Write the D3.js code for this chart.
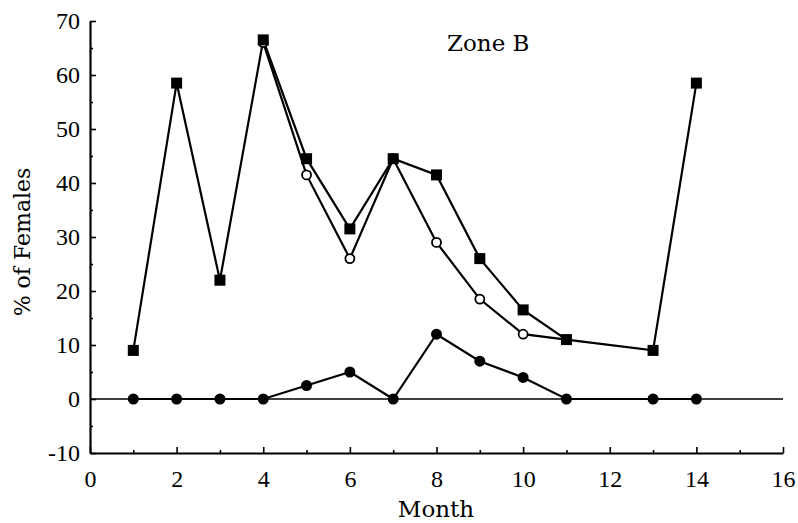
<!DOCTYPE html>
<html><head><meta charset="utf-8">
<script src="https://cdn.jsdelivr.net/npm/d3@7"></script>
<style>body{margin:0;background:#fff}svg{display:block}</style>
</head><body>
<svg id="chart" width="798" height="523"></svg>
<script>
const xTicks = [0,2,4,6,8,10,12,14,16];
const yTicks = [-10,0,10,20,30,40,50,60,70];
const monthsA = [1,2,3,4,5,6,7,8,9,10,11,13,14];
const valuesA = [9,58.5,22,66.5,44.5,31.5,44.5,41.5,26,16.5,11,9,58.5];
const monthsB = [4,5,6,7,8,9,10,11];
const valuesB = [66,41.5,26,44.5,29,18.5,12,11];
const monthsC = [1,2,3,4,5,6,7,8,9,10,11,13,14];
const valuesC = [0,0,0,0,2.5,5,0,12,7,4,0,0,0];

const svg = d3.select("#chart");
const x = d3.scaleLinear().domain([0,16]).range([90,783]);
const y = d3.scaleLinear().domain([-10,70]).range([453,21]);
const font = "'DejaVu Serif', serif";
const tickFont = "'Liberation Serif', serif";
const fmt = d => String(d);

// zero reference line
svg.append("line").attr("x1",x(0)).attr("x2",x(16)).attr("y1",y(0)).attr("y2",y(0))
  .attr("stroke","#000").attr("stroke-width",1.3);

// axes
const gx = svg.append("g").attr("transform",`translate(0,${y(-10)})`)
  .call(d3.axisBottom(x).tickValues(xTicks).tickFormat(fmt).tickSize(-6).tickPadding(17).tickSizeOuter(0));
const gy = svg.append("g").attr("transform",`translate(${x(0)},0)`)
  .call(d3.axisLeft(y).tickValues(yTicks).tickFormat(fmt).tickSize(-6).tickPadding(10).tickSizeOuter(0));
// minor ticks
svg.append("g").attr("transform",`translate(0,${y(-10)})`)
  .call(d3.axisBottom(x).tickValues(d3.range(1,16,2)).tickSize(-3).tickFormat("").tickSizeOuter(0))
  .call(g=>g.select(".domain").remove());
svg.append("g").attr("transform",`translate(${x(0)},0)`)
  .call(d3.axisLeft(y).tickValues(d3.range(-5,70,10)).tickSize(-3).tickFormat("").tickSizeOuter(0))
  .call(g=>g.select(".domain").remove());
svg.selectAll(".domain").attr("stroke-width",2.2);
svg.selectAll(".tick line").attr("stroke-width",1.6);
svg.selectAll(".tick text").attr("font-family",tickFont).attr("font-size",24).attr("fill","#000");
gx.selectAll(".tick text").attr("dy","0.71em");

const line = d3.line().x(d=>x(d[0])).y(d=>y(d[1]));
const dataA = monthsA.map((m,i)=>[m,valuesA[i]]);
const dataB = monthsB.map((m,i)=>[m,valuesB[i]]);
const dataC = monthsC.map((m,i)=>[m,valuesC[i]]);

[dataA,dataB,dataC].forEach(d=>{
  svg.append("path").datum(d).attr("d",line).attr("fill","none").attr("stroke","#000").attr("stroke-width",2.2);
});

// open circles
svg.selectAll(".oc").data(dataB).enter().append("circle")
  .attr("cx",d=>x(d[0])).attr("cy",d=>y(d[1])).attr("r",4.5)
  .attr("fill","#fff").attr("stroke","#000").attr("stroke-width",1.8);
// filled squares
svg.selectAll(".sq").data(dataA).enter().append("rect")
  .attr("x",d=>x(d[0])-5.5).attr("y",d=>y(d[1])-5.5).attr("width",11).attr("height",11).attr("fill","#000");
// filled circles
svg.selectAll(".fc").data(dataC).enter().append("circle")
  .attr("cx",d=>x(d[0])).attr("cy",d=>y(d[1])).attr("r",5.5).attr("fill","#000");

// labels
svg.append("text").attr("x",436).attr("y",517).attr("text-anchor","middle")
  .attr("font-family",font).attr("font-size",23).text("Month");
svg.append("text").attr("transform","translate(30,242) rotate(-90)").attr("text-anchor","middle")
  .attr("font-family",font).attr("font-size",22).text("% of Females");
svg.append("text").attr("x",447).attr("y",51)
  .attr("font-family",font).attr("font-size",23).text("Zone B");
</script>
</body></html>
